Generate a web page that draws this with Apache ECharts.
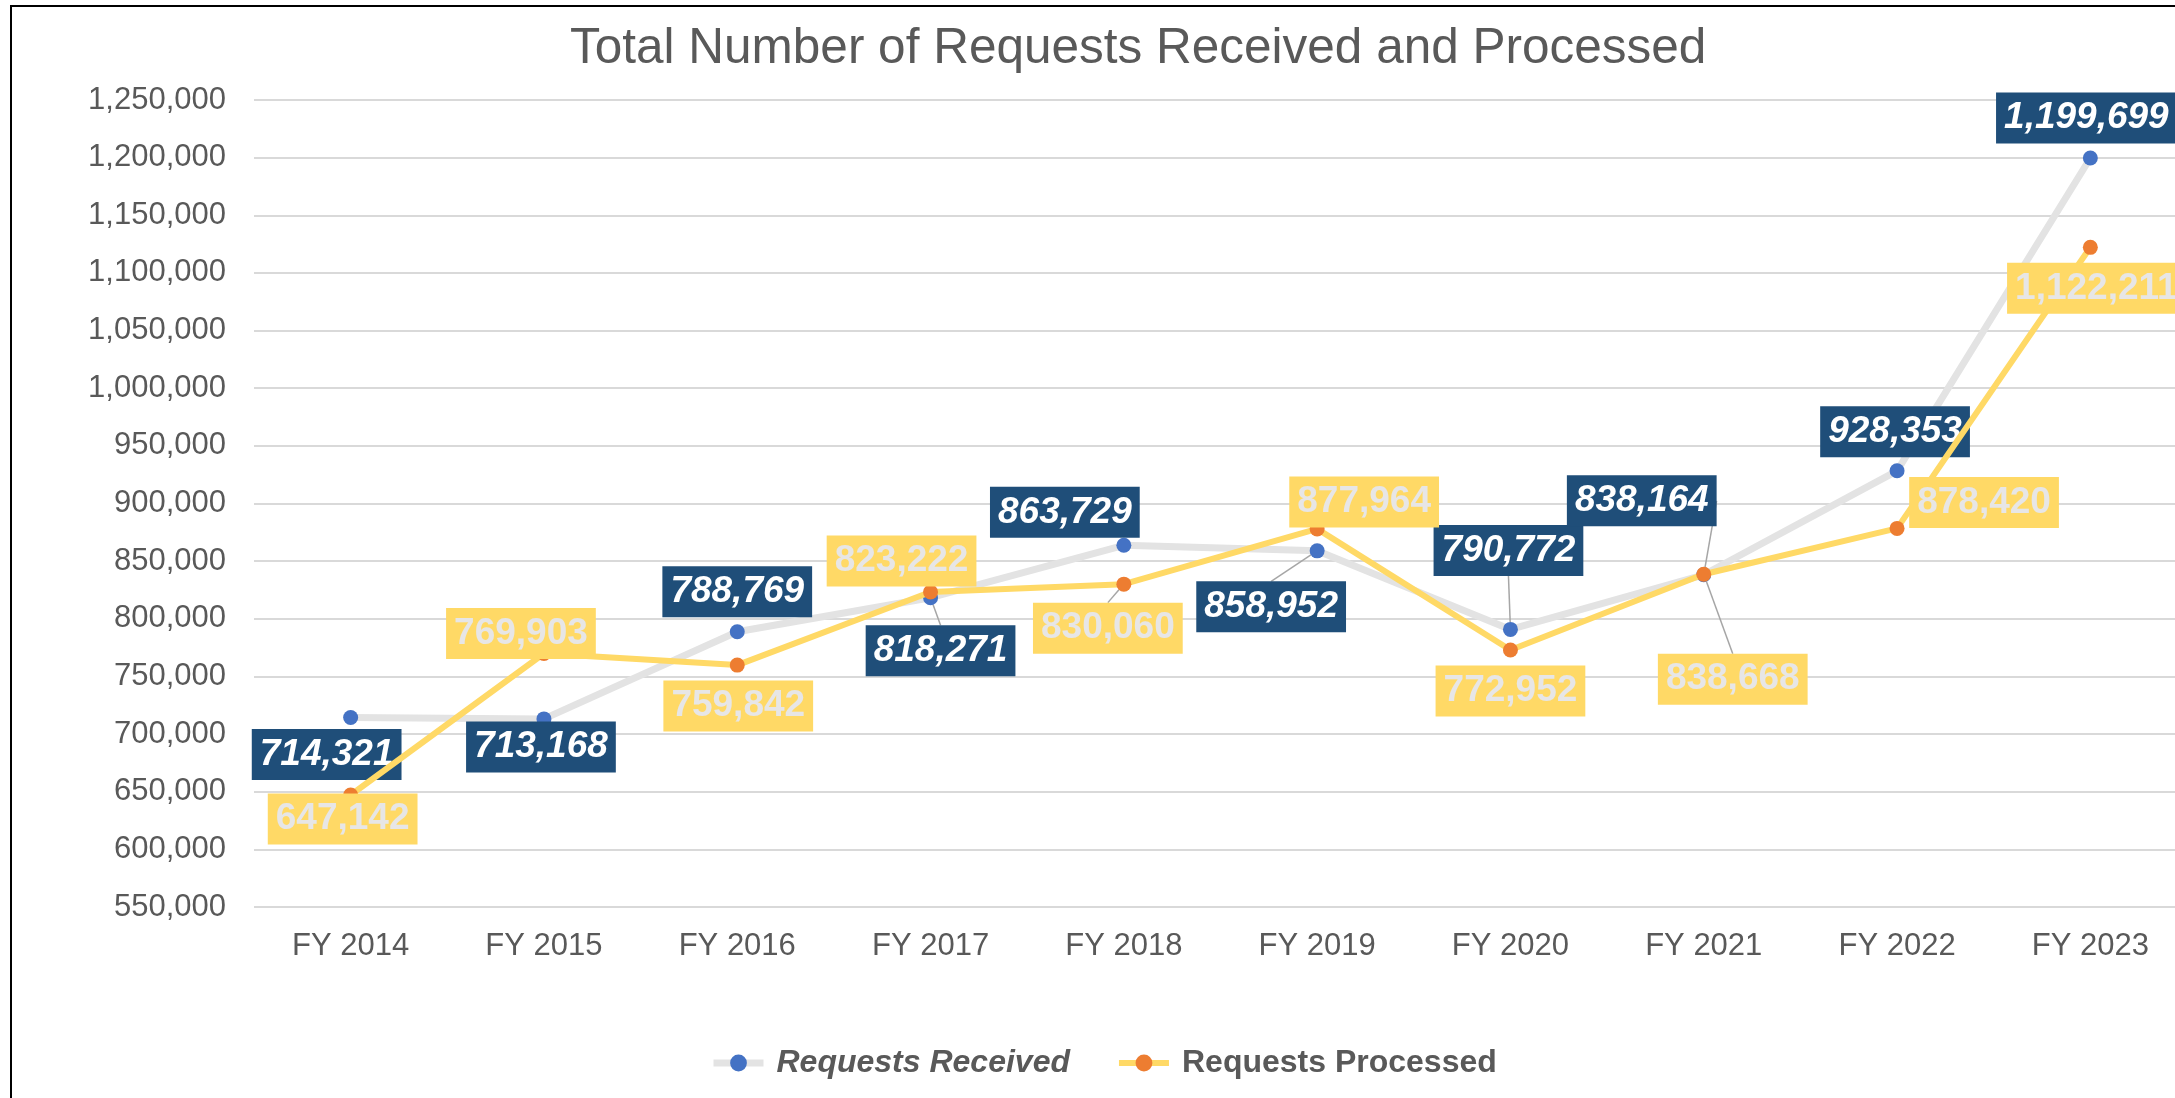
<!DOCTYPE html>
<html>
<head>
<meta charset="utf-8">
<script src="https://cdn.jsdelivr.net/npm/echarts@6/dist/echarts.min.js"></script>
<style>
  html, body { margin: 0; padding: 0; background: #fff; overflow: hidden; }
  #chart { width: 2200px; height: 1098px; }
</style>
</head>
<body>
<div id="chart"></div>
<script>
const categories = ['FY 2014', 'FY 2015', 'FY 2016', 'FY 2017', 'FY 2018', 'FY 2019', 'FY 2020', 'FY 2021', 'FY 2022', 'FY 2023'];
const received = [714321, 713168, 788769, 818271, 863729, 858952, 790772, 838164, 928353, 1199699];
const processed = [647142, 769903, 759842, 823222, 830060, 877964, 772952, 838668, 878420, 1122211];

// label placement relative to the point (px), like the hand-moved Excel labels
const receivedLabelShift = [[-24, 37], [-3, 28], [0, -40], [10, 53], [-59, -33], [-46, 56], [-2, -79], [-62, -74], [-2, -39], [-4, -40]];
const processedLabelShift = [[-8, 24], [-23, -20], [1, 41], [-29, -31], [-16, 44], [47, -27], [0, 41], [29, 105], [87, -26], [6, 41]];
const receivedLeader = [false, false, false, true, false, true, true, true, false, false];
const processedLeader = [false, false, false, false, true, false, false, true, false, false];

const fmt = (v) => v.toLocaleString('en-US');
const FONT = '"Liberation Sans", Arial, sans-serif';

const chart = echarts.init(document.getElementById('chart'));

const buildData = (values, leaders) => values.map((v, i) => ({
  value: v,
  labelLine: { show: leaders[i] },
}));

const option = {
  backgroundColor: '#fff',
  animation: false,
  textStyle: { fontFamily: FONT },
  title: {
    text: 'Total Number of Requests Received and Processed',
    left: 565,
    top: 19,
    textStyle: { fontSize: 49.5, fontWeight: 'normal', color: '#595959', fontFamily: FONT },
  },
  graphic: [{
    type: 'rect',
    shape: { x: 11, y: 6, width: 2300, height: 1200 },
    style: { fill: 'none', stroke: '#000', lineWidth: 2 },
    silent: true,
  }],
  legend: {
    left: 705,
    top: 1042,
    itemWidth: 50,
    itemHeight: 21,
    itemGap: 46,
    textStyle: { fontSize: 32, fontWeight: 'bold', color: '#595959', fontFamily: FONT, padding: [0, 0, 0, 8] },
    data: [
      { name: 'Requests Received', textStyle: { fontStyle: 'italic' }, lineStyle: { width: 7 } },
      { name: 'Requests Processed', lineStyle: { width: 6 } },
    ],
  },
  grid: {
    left: 254,
    top: 100,
    width: 1933,
    height: 807,
    containLabel: false,
  },
  xAxis: {
    type: 'category',
    data: categories,
    boundaryGap: true,
    axisLine: { show: false },
    axisTick: { show: false },
    axisLabel: { fontSize: 31, color: '#595959', margin: 24, fontFamily: FONT },
  },
  yAxis: {
    type: 'value',
    min: 550000,
    max: 1250000,
    interval: 50000,
    axisLine: { show: false },
    axisTick: { show: false },
    axisLabel: { fontSize: 31, color: '#595959', margin: 28, formatter: fmt, fontFamily: FONT },
    splitLine: { lineStyle: { color: '#D9D9D9', width: 2 } },
  },
  series: [
    {
      name: 'Requests Received',
      type: 'line',
      data: buildData(received, receivedLeader),
      symbol: 'circle',
      symbolSize: 15,
      showAllSymbol: true,
      lineStyle: { color: '#E3E3E3', width: 7 },
      itemStyle: { color: '#4472C4' },
      label: {
        show: true,
        position: 'inside',
        formatter: (p) => fmt(p.value),
        fontSize: 37,
        fontWeight: 'bold',
        fontStyle: 'italic',
        color: '#fff',
        backgroundColor: '#1F4E79',
        padding: [5, 8, 4, 8],
        lineHeight: 42,
        fontFamily: FONT,
      },
      labelLine: { show: false, lineStyle: { color: '#A6A6A6', width: 1.5 } },
      labelLayout: (p) => ({ dx: receivedLabelShift[p.dataIndex][0], dy: receivedLabelShift[p.dataIndex][1] }),
      z: 2,
    },
    {
      name: 'Requests Processed',
      type: 'line',
      data: buildData(processed, processedLeader),
      symbol: 'circle',
      symbolSize: 15,
      showAllSymbol: true,
      lineStyle: { color: '#FFD966', width: 6 },
      itemStyle: { color: '#ED7D31' },
      label: {
        show: true,
        position: 'inside',
        formatter: (p) => fmt(p.value),
        fontSize: 37,
        fontWeight: 'bold',
        color: '#E7E6E6',
        backgroundColor: '#FFD966',
        padding: [5, 8, 4, 8],
        lineHeight: 42,
        fontFamily: FONT,
      },
      labelLine: { show: false, lineStyle: { color: '#A6A6A6', width: 1.5 } },
      labelLayout: (p) => ({ dx: processedLabelShift[p.dataIndex][0], dy: processedLabelShift[p.dataIndex][1] }),
      z: 3,
    },
  ],
};

chart.setOption(option);
</script>
</body>
</html>
